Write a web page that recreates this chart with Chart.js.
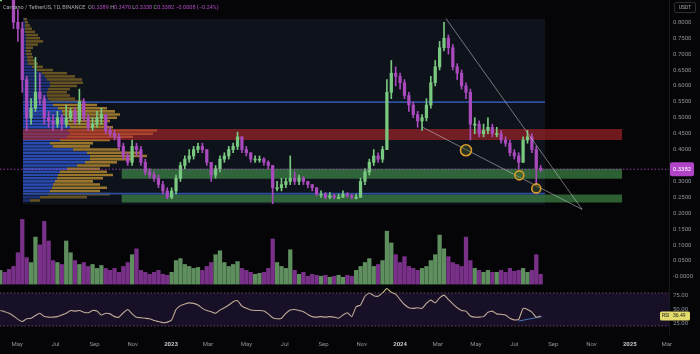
<!DOCTYPE html>
<html>
<head>
<meta charset="utf-8">
<title>ADAUSDT 1D</title>
<script src="https://cdn.jsdelivr.net/npm/chart.js@4.4.1/dist/chart.umd.min.js"></script>
<style>
  html, body { margin: 0; padding: 0; background: #050507; }
  #wrap { position: relative; width: 700px; height: 354px; overflow: hidden; background: #050507; font-family: Roboto, "Liberation Sans", sans-serif; }
  canvas { position: absolute; left: 0; }
  #main { top: 0; }
  #rsi { top: 288px; }
  #title { position: absolute; left: 3px; top: 4px; font-size: 5.5px; line-height: 7px; color: #a3a6ad; white-space: nowrap; }
  #title span { color: #b24cc4; }
  #usdt { position: absolute; left: 674px; top: 2px; width: 20px; height: 9px; border: 1px solid #2b2e36; border-radius: 2px; font-size: 5px; line-height: 9px; text-align: center; color: #a3a6ad; }
</style>
</head>
<body>
<div id="wrap">
  <canvas id="main" width="700" height="288"></canvas>
  <canvas id="rsi" width="700" height="66"></canvas>
  <div id="title">Cardano / TetherUS, 1D, BINANCE &nbsp;O<span>0.3389</span> H<span>0.3470</span> L<span>0.3338</span> C<span>0.3382</span> <span>−0.0008 (−0.24%)</span></div>
  <div id="usdt">USDT</div>
</div>
<script>
Chart.defaults.font.family = 'Roboto, "Liberation Sans", sans-serif';
Chart.defaults.font.size = 6;
Chart.defaults.color = '#8e9199';

// weekly candles, first week starts 2022-04-04
var firstWeek = '2022-04-04';
var closes = [
  0.97, 0.94, 0.90, 0.80, 0.78, 0.62, 0.50, 0.53, 0.58, 0.56,
  0.50, 0.49, 0.48, 0.50, 0.48, 0.50, 0.52, 0.49, 0.55, 0.50,
  0.47, 0.48, 0.50, 0.51, 0.46, 0.45, 0.44, 0.41, 0.38, 0.36,
  0.41, 0.40, 0.36, 0.33, 0.32, 0.31, 0.29, 0.27, 0.25, 0.27,
  0.31, 0.35, 0.37, 0.38, 0.40, 0.41, 0.40, 0.36, 0.32, 0.34,
  0.37, 0.38, 0.40, 0.41, 0.44, 0.40, 0.39, 0.37, 0.37, 0.37,
  0.36, 0.35, 0.28, 0.28, 0.29, 0.30, 0.31, 0.30, 0.31, 0.30,
  0.29, 0.28, 0.26, 0.26, 0.25, 0.255, 0.25, 0.25, 0.26, 0.255,
  0.25, 0.25, 0.30, 0.33, 0.36, 0.38, 0.37, 0.40, 0.58, 0.64,
  0.63, 0.61, 0.57, 0.54, 0.51, 0.49, 0.50, 0.54, 0.61, 0.66,
  0.72, 0.75, 0.72, 0.66, 0.64, 0.60, 0.58, 0.48, 0.48, 0.45,
  0.46, 0.47, 0.45, 0.45, 0.43, 0.42, 0.39, 0.38, 0.36, 0.43,
  0.44, 0.40, 0.34, 0.3382
];
var highs = [
  1.00, 0.98, 0.95, 0.91, 0.84, 0.80, 0.63, 0.56, 0.69, 0.64,
  0.57, 0.52, 0.51, 0.52, 0.51, 0.54, 0.53, 0.53, 0.59, 0.56,
  0.51, 0.50, 0.52, 0.53, 0.51, 0.47, 0.46, 0.45, 0.42, 0.39,
  0.43, 0.42, 0.41, 0.37, 0.34, 0.33, 0.32, 0.30, 0.28, 0.28,
  0.32, 0.36, 0.38, 0.40, 0.41, 0.42, 0.42, 0.40, 0.36, 0.35,
  0.38, 0.39, 0.41, 0.42, 0.455, 0.44, 0.41, 0.39, 0.38, 0.38,
  0.375, 0.365, 0.35, 0.30, 0.31, 0.31, 0.38, 0.33, 0.32, 0.315,
  0.30, 0.29, 0.28, 0.27, 0.265, 0.265, 0.26, 0.26, 0.27, 0.265,
  0.26, 0.26, 0.31, 0.34, 0.37, 0.40, 0.39, 0.41, 0.62, 0.68,
  0.66, 0.64, 0.62, 0.58, 0.55, 0.52, 0.51, 0.56, 0.63, 0.68,
  0.74, 0.80, 0.76, 0.73, 0.67, 0.65, 0.61, 0.59, 0.50, 0.49,
  0.48, 0.50, 0.48, 0.47, 0.46, 0.44, 0.43, 0.40, 0.39, 0.44,
  0.46, 0.45, 0.41, 0.35
];
var lows = [
  0.95, 0.92, 0.88, 0.78, 0.74, 0.58, 0.46, 0.48, 0.52, 0.54,
  0.48, 0.47, 0.46, 0.47, 0.46, 0.47, 0.49, 0.48, 0.48, 0.49,
  0.46, 0.46, 0.47, 0.48, 0.45, 0.44, 0.43, 0.40, 0.37, 0.35,
  0.35, 0.38, 0.35, 0.32, 0.31, 0.30, 0.28, 0.26, 0.245, 0.245,
  0.26, 0.30, 0.34, 0.36, 0.37, 0.39, 0.39, 0.35, 0.30, 0.31,
  0.33, 0.36, 0.37, 0.39, 0.40, 0.39, 0.38, 0.36, 0.36, 0.36,
  0.35, 0.34, 0.23, 0.27, 0.27, 0.28, 0.29, 0.29, 0.29, 0.29,
  0.28, 0.27, 0.255, 0.25, 0.245, 0.245, 0.245, 0.245, 0.25, 0.25,
  0.245, 0.245, 0.25, 0.29, 0.32, 0.35, 0.36, 0.36, 0.40, 0.56,
  0.60, 0.59, 0.56, 0.52, 0.50, 0.47, 0.46, 0.49, 0.53, 0.60,
  0.65, 0.71, 0.70, 0.65, 0.62, 0.59, 0.56, 0.43, 0.45, 0.44,
  0.44, 0.45, 0.44, 0.44, 0.42, 0.41, 0.38, 0.37, 0.34, 0.36,
  0.42, 0.39, 0.29, 0.33
];
// volume, millions
var volumes = [
  14, 12, 15, 18, 32, 66, 27, 22, 48, 40,
  64, 44, 24, 22, 20, 44, 32, 24, 20, 22,
  18, 20, 16, 19, 16, 14, 16, 12, 18, 22,
  30, 36, 14, 12, 10, 12, 14, 10, 9, 12,
  24, 26, 20, 18, 16, 17, 14, 18, 22, 30,
  34, 22, 18, 20, 23, 16, 14, 12, 10, 11,
  12, 16, 46, 22, 18, 16, 35, 14, 10, 12,
  8, 10, 9, 8, 9, 7, 8, 9, 7, 9,
  8, 14, 18, 22, 26, 18, 20, 24, 54, 42,
  30, 22, 28, 18, 16, 14, 16, 18, 24, 30,
  50, 36, 28, 22, 20, 18, 48, 24, 16, 14,
  12, 14, 12, 12, 14, 12, 16, 13, 14, 16,
  12, 14, 30, 10
];
var rsiValues = [
  48, 46, 43, 38, 32, 28, 33, 34, 39, 43,
  37, 36, 36, 37, 40, 43, 48, 47, 48, 45,
  44, 48, 47, 40, 43, 42, 37, 36, 44, 50,
  42, 36, 35, 34, 33, 30, 28, 26, 27, 31,
  50, 57, 60, 62, 61, 58, 52, 48, 46, 43,
  49, 53, 58, 64, 66, 56, 52, 49, 48, 48,
  47, 42, 35, 33, 34, 43, 49, 50, 48, 46,
  41, 37, 36, 37, 36, 37, 36, 34, 40, 44,
  37, 55, 58, 74, 80, 75, 74, 80, 88, 81,
  78, 68, 59, 53, 52, 53, 52, 61, 67, 62,
  71, 76, 68, 60, 53, 48, 47, 38, 36, 36,
  37, 45, 47, 42, 41, 40, 34, 31, 32, 52,
  50, 45, 36, 38
];

// visible range volume profile, one row per 0.01
var profileLevels = [
  0.24, 0.25, 0.26, 0.27, 0.28, 0.29, 0.30, 0.31, 0.32, 0.33,
  0.34, 0.35, 0.36, 0.37, 0.38, 0.39, 0.40, 0.41, 0.42, 0.43,
  0.44, 0.45, 0.46, 0.47, 0.48, 0.49, 0.50, 0.51, 0.52, 0.53,
  0.54, 0.55, 0.56, 0.57, 0.58, 0.59, 0.60, 0.61, 0.62, 0.63,
  0.64, 0.65, 0.66, 0.67, 0.68, 0.69, 0.70, 0.71, 0.72, 0.73,
  0.74, 0.75, 0.76, 0.77, 0.78, 0.79, 0.80, 0.81
];
var profileBuy = [
  7, 17, 25, 27, 29, 30, 32, 34, 35, 37,
  44, 54, 62, 67, 67, 64, 50, 30, 27, 37,
  44, 47, 45, 47, 44, 44, 42, 40, 39, 35,
  30, 27, 25, 24, 24, 25, 27, 27, 24, 22,
  19, 14, 9, 5, 4, 4, 3, 3, 3, 3,
  3, 3, 3, 2, 2, 2, 2, 1
];
var profileSell = [
  10, 47, 62, 50, 55, 47, 38, 46, 55, 47,
  33, 33, 32, 43, 57, 53, 47, 37, 43, 50,
  66, 83, 89, 43, 40, 43, 52, 57, 53, 49,
  44, 33, 27, 23, 20, 22, 27, 33, 35, 30,
  25, 16, 11, 10, 8, 6, 6, 5, 7, 12,
  17, 14, 12, 10, 7, 5, 3, 3
];
var valueArea = [0.27, 0.55];

// drawings
var rangeFrom = '2022-05-10', rangeTo = '2024-08-19', zoneTo = '2024-12-20', greenFrom = '2022-10-14';
var rangeBox = [0.227, 0.81];
var redZone = [0.430, 0.465];
var greenZones = [[0.308, 0.340], [0.234, 0.259]];
var blueLevels = [0.549, 0.2615];
var wedgeTop = [['2024-03-14', 0.812], ['2024-10-17', 0.212]];
var wedgeLow = [['2024-02-05', 0.471], ['2024-10-17', 0.212]];
var touches = [['2024-04-15', 0.398], ['2024-07-09', 0.319], ['2024-08-05', 0.278]];
var rsiDivergence = [['2024-07-08', 29], ['2024-08-14', 37]];

var priceTicks = [0, 0.05, 0.1, 0.15, 0.2, 0.25, 0.3, 0.35, 0.4, 0.45, 0.5, 0.55, 0.6, 0.65, 0.7, 0.75, 0.8];
var rsiTicks = [25, 50, 75];
var timeTicks = ['2022-05-01', '2022-07-01', '2022-09-01', '2022-11-01', '2023-01-01', '2023-03-01',
  '2023-05-01', '2023-07-01', '2023-09-01', '2023-11-01', '2024-01-01', '2024-03-01',
  '2024-05-01', '2024-07-01', '2024-09-01', '2024-11-01', '2025-01-01', '2025-03-01'];
var timeLabels = ['May', 'Jul', 'Sep', 'Nov', '2023', 'Mar', 'May', 'Jul', 'Sep', 'Nov', '2024',
  'Mar', 'May', 'Jul', 'Sep', 'Nov', '2025', 'Mar'];
var lastPrice = 0.3382;
var lastRsi = '36.49';

var X_MIN = 92.5, X_MAX = 1158.5;
var DAY0 = Date.UTC(2022, 0, 1);
function day(s) {
  var p = s.split('-');
  return (Date.UTC(+p[0], p[1] - 1, +p[2]) - DAY0) / 864e5;
}

var t0 = day(firstWeek);
var weeks = closes.map(function (c, i) { return t0 + 7 * i; });
var opens = closes.map(function (c, i) { return i ? closes[i - 1] : c; });
var isUp = closes.map(function (c, i) { return c >= opens[i]; });

var UP = '#7ac981', DOWN = '#a94abd';

function hline(p, from, to, extra) {
  var d = {
    type: 'line', data: [{x: from, y: p}, {x: to, y: p}],
    pointRadius: 0, borderColor: 'transparent', borderWidth: 0, fill: false
  };
  for (var k in extra) d[k] = extra[k];
  return d;
}
function seg(points, extra) {
  var d = {
    type: 'line', data: points.map(function (q) { return {x: day(q[0]), y: q[1]}; }),
    pointRadius: 0, fill: false
  };
  for (var k in extra) d[k] = extra[k];
  return d;
}

var ds = [];
// visible range background
ds.push(hline(rangeBox[1], day(rangeFrom), day(rangeTo), {order: 100}));
ds.push(hline(rangeBox[0], day(rangeFrom), day(rangeTo), {order: 100, fill: '-1', backgroundColor: 'rgba(24,32,46,0.5)'}));

// volume profile
function inVA(p) { return p >= valueArea[0] && p <= valueArea[1]; }
ds.push({
  type: 'bar', indexAxis: 'y', xAxisID: 'xp', yAxisID: 'yp',
  data: profileLevels.map(function (p, i) { return {y: p, x: [0, profileBuy[i]]}; }),
  backgroundColor: profileLevels.map(function (p) { return inVA(p) ? 'rgba(46,82,196,0.88)' : 'rgba(34,58,140,0.8)'; }),
  barPercentage: 0.8, categoryPercentage: 1, grouped: false, order: 90
});
ds.push({
  type: 'bar', indexAxis: 'y', xAxisID: 'xp', yAxisID: 'yp',
  data: profileLevels.map(function (p, i) { return {y: p, x: [profileBuy[i], profileBuy[i] + profileSell[i]]}; }),
  backgroundColor: profileLevels.map(function (p) { return inVA(p) ? 'rgba(172,132,50,0.88)' : 'rgba(118,94,38,0.85)'; }),
  barPercentage: 0.8, categoryPercentage: 1, grouped: false, order: 89
});

// zones
ds.push(hline(redZone[1], day(rangeFrom), day(zoneTo), {order: 80}));
ds.push(hline(redZone[0], day(rangeFrom), day(zoneTo), {order: 80, fill: '-1', backgroundColor: 'rgba(178,38,44,0.62)'}));
greenZones.forEach(function (z) {
  ds.push(hline(z[1], day(greenFrom), day(zoneTo), {order: 80}));
  ds.push(hline(z[0], day(greenFrom), day(zoneTo), {order: 80, fill: '-1', backgroundColor: 'rgba(72,160,82,0.58)'}));
});
blueLevels.forEach(function (p) {
  ds.push(hline(p, day(rangeFrom), day(rangeTo), {order: 70, borderColor: '#2c4f9f', borderWidth: 1.6}));
});

// volume
ds.push({
  type: 'bar', yAxisID: 'yv',
  data: weeks.map(function (d, i) { return {x: d, y: volumes[i]}; }),
  backgroundColor: isUp.map(function (u) { return u ? 'rgba(118,176,118,0.8)' : 'rgba(142,56,160,0.85)'; }),
  barThickness: 3.6, grouped: false, order: 60
});

// candles
ds.push({
  type: 'bar',
  data: weeks.map(function (d, i) { return {x: d, y: [lows[i], highs[i]]}; }),
  backgroundColor: isUp.map(function (u) { return u ? UP : DOWN; }),
  barThickness: 1, grouped: false, order: 50
});
ds.push({
  type: 'bar',
  data: weeks.map(function (d, i) { return {x: d, y: [opens[i], closes[i]]}; }),
  backgroundColor: isUp.map(function (u) { return u ? UP : DOWN; }),
  barThickness: 2.6, minBarLength: 1, grouped: false, order: 49
});

// wedge, touches, last price
ds.push(seg(wedgeTop, {order: 30, borderColor: 'rgba(205,205,210,0.6)', borderWidth: 0.9}));
ds.push(seg(wedgeLow, {order: 30, borderColor: 'rgba(205,205,210,0.6)', borderWidth: 0.9}));
ds.push(seg(touches, {
  order: 29, showLine: false, pointRadius: [5.5, 4.5, 4.5], pointBorderWidth: 1.6,
  pointBorderColor: '#d49a2c', pointBackgroundColor: 'rgba(90,110,40,0.35)'
}));
ds.push(hline(lastPrice, X_MIN, X_MAX, {order: 20, borderColor: 'rgba(176,68,198,0.85)', borderWidth: 1, borderDash: [1.5, 2]}));

var priceTag = {
  id: 'priceTag',
  afterDraw: function (chart) {
    var c = chart.ctx, y = chart.scales.y.getPixelForValue(lastPrice), x = chart.chartArea.right + 1;
    c.save();
    c.fillStyle = '#b043c6';
    c.beginPath();
    c.roundRect(x, y - 7, 24, 14, 2);
    c.fill();
    c.fillStyle = '#ffffff';
    c.font = '6px Roboto, "Liberation Sans", sans-serif';
    c.textBaseline = 'middle';
    c.textAlign = 'center';
    c.fillText(lastPrice.toFixed(4), x + 12, y);
    c.restore();
  }
};

new Chart(document.getElementById('main'), {
  type: 'bar',
  data: {datasets: ds},
  options: {
    responsive: false,
    animation: false,
    events: [],
    layout: {padding: 0, autoPadding: false},
    plugins: {legend: {display: false}, tooltip: {enabled: false}},
    scales: {
      x: {type: 'linear', position: 'bottom', min: X_MIN, max: X_MAX, offset: false, display: false},
      y: {
        type: 'linear', position: 'right', min: -0.035, max: 0.87, offset: false,
        grid: {display: false, drawTicks: false},
        border: {display: true, color: '#17191f'},
        afterBuildTicks: function (a) { a.ticks = priceTicks.map(function (v) { return {value: v}; }); },
        afterFit: function (a) { a.width = 31; a.paddingTop = 0; a.paddingBottom = 0; },
        ticks: {
          padding: 4, color: '#8e9199', font: {size: 6},
          callback: function (v) { return v === 0 ? '-0.0000' : v.toFixed(4); }
        }
      },
      yv: {type: 'linear', axis: 'y', position: 'left', display: false, min: -4, max: 290, offset: false},
      yp: {type: 'linear', axis: 'y', position: 'left', display: false, min: -0.035, max: 0.87, offset: false},
      xp: {type: 'linear', axis: 'x', position: 'bottom', display: false, min: -23, max: 646, offset: false}
    }
  },
  plugins: [priceTag]
});

// RSI pane
var bandLine = 'rgba(140,84,118,0.75)';
var rsiDs = [
  {type: 'line', data: [{x: X_MIN, y: 80}, {x: X_MAX, y: 80}], borderColor: bandLine, borderWidth: 1, borderDash: [1.5, 2], pointRadius: 0, fill: false},
  {type: 'line', data: [{x: X_MIN, y: 20}, {x: X_MAX, y: 20}], borderColor: bandLine, borderWidth: 1, borderDash: [1.5, 2], pointRadius: 0,
    fill: '-1', backgroundColor: 'rgba(98,62,172,0.2)'},
  {type: 'line', data: weeks.map(function (d, i) { return {x: d, y: rsiValues[i]}; }),
    borderColor: '#d6c690', borderWidth: 1.1, pointRadius: 0, tension: 0.15, fill: false},
  seg(rsiDivergence, {borderColor: '#3f86b8', borderWidth: 1})
];

var rsiTag = {
  id: 'rsiTag',
  afterDraw: function (chart) {
    var c = chart.ctx, y = chart.scales.y.getPixelForValue(rsiValues[rsiValues.length - 1]);
    var x = chart.chartArea.right - 9;
    c.save();
    c.fillStyle = '#e3db6c';
    c.beginPath();
    c.roundRect(x, y - 4.5, 30, 9, 1.5);
    c.fill();
    c.fillStyle = '#1c1c1c';
    c.font = '5px Roboto, "Liberation Sans", sans-serif';
    c.textBaseline = 'middle';
    c.fillText('RSI', x + 2, y);
    c.fillText(lastRsi, x + 13, y);
    c.restore();
  }
};

new Chart(document.getElementById('rsi'), {
  type: 'line',
  data: {datasets: rsiDs},
  options: {
    responsive: false,
    animation: false,
    events: [],
    layout: {padding: 0, autoPadding: false},
    plugins: {legend: {display: false}, tooltip: {enabled: false}},
    scales: {
      x: {
        type: 'linear', min: X_MIN, max: X_MAX, offset: false,
        grid: {display: false, drawTicks: false},
        border: {display: false},
        afterBuildTicks: function (a) { a.ticks = timeTicks.map(function (s) { return {value: day(s)}; }); },
        afterFit: function (a) { a.height = 20; a.paddingLeft = 0; a.paddingRight = 0; },
        ticks: {
          padding: 7, autoSkip: false, maxRotation: 0,
          callback: function (v, i) { return timeLabels[i]; },
          color: function (ctx) { return /^\d/.test(timeLabels[ctx.index]) ? '#c4c7cd' : '#8e9199'; },
          font: function (ctx) { return {size: 6, weight: /^\d/.test(timeLabels[ctx.index]) ? 'bold' : 'normal'}; }
        }
      },
      y: {
        type: 'linear', position: 'right', min: 5.4, max: 89,
        grid: {display: false, drawTicks: false},
        border: {display: true, color: '#17191f'},
        afterBuildTicks: function (a) { a.ticks = rsiTicks.map(function (v) { return {value: v}; }); },
        afterFit: function (a) { a.width = 31; a.paddingTop = 0; a.paddingBottom = 0; },
        ticks: {padding: 4, color: '#8e9199', font: {size: 6}, callback: function (v) { return v.toFixed(2); }}
      }
    }
  },
  plugins: [rsiTag]
});
</script>
</body>
</html>
